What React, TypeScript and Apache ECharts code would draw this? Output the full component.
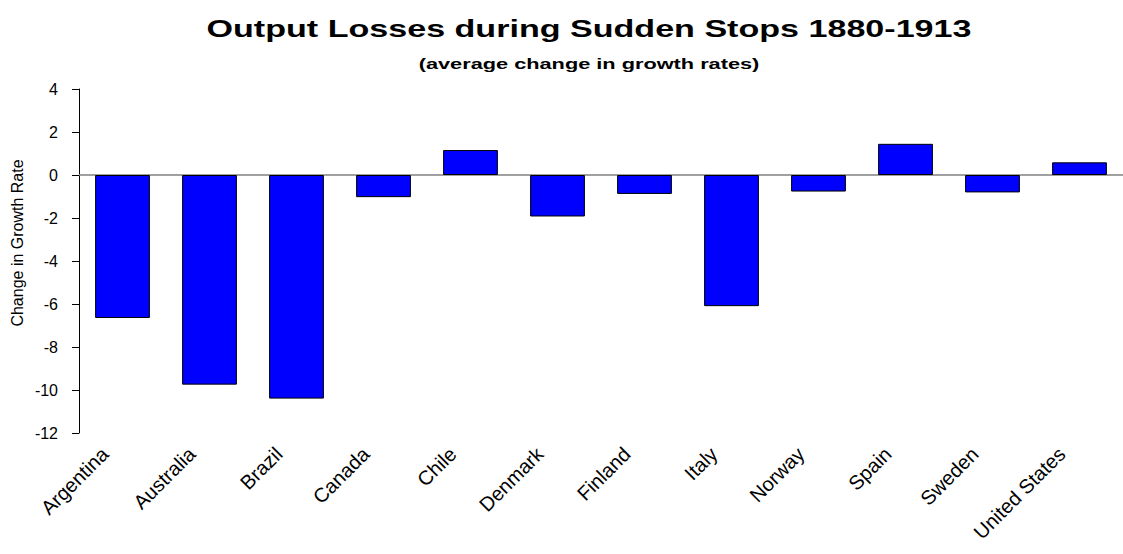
import React, { useEffect, useRef } from "react";
import * as echarts from "echarts";

const countries = [
  "Argentina", "Australia", "Brazil", "Canada", "Chile", "Denmark",
  "Finland", "Italy", "Norway", "Spain", "Sweden", "United States",
];
const growthChange = [-6.65, -9.75, -10.4, -1.03, 1.16, -1.93, -0.88, -6.1, -0.77, 1.45, -0.81, 0.59];
const yMin = -12;
const yMax = 4;
const yStep = 2;

const titleText = "Output Losses during Sudden Stops 1880-1913";
const subtitleText = "(average change in growth rates)";
const yAxisTitle = "Change in Growth Rate";

const FONT = "'Liberation Sans', Arial, sans-serif";

export default function App() {
  const ref = useRef<HTMLDivElement>(null);
  useEffect(() => {
    if (!ref.current) return;
    const chart = echarts.init(ref.current, null, { renderer: "svg" });
    chart.setOption({
      animation: false,
      backgroundColor: "#ffffff",
      graphic: [
        {
          type: "text",
          x: 589,
          y: 28,
          scaleX: 1.42,
          style: {
            text: titleText,
            font: `bold 24px ${FONT}`,
            fill: "#000",
            align: "center",
            verticalAlign: "middle",
          },
        },
        {
          type: "text",
          x: 589,
          y: 64,
          scaleX: 1.45,
          style: {
            text: subtitleText,
            font: `bold 15px ${FONT}`,
            fill: "#000",
            align: "center",
            verticalAlign: "middle",
          },
        },
        {
          type: "text",
          x: 17,
          y: 243,
          rotation: Math.PI / 2,
          style: {
            text: yAxisTitle,
            font: `16px ${FONT}`,
            fill: "#000",
            align: "center",
            verticalAlign: "middle",
          },
        },
      ],
      grid: { left: 79, top: 89, width: 1047, height: 344, containLabel: false },
      xAxis: {
        type: "category",
        data: countries,
        position: "bottom",
        axisLine: { show: false, onZero: false },
        axisTick: { show: false },
        axisLabel: {
          rotate: 45,
          interval: 0,
          margin: 0,
          padding: [0, 25, 0, 0],
          fontFamily: FONT,
          fontSize: 20,
          color: "#000",
        },
      },
      yAxis: {
        type: "value",
        min: yMin,
        max: yMax,
        interval: yStep,
        axisLine: { show: true, lineStyle: { color: "#000", width: 1 } },
        axisTick: { show: true, length: 7, lineStyle: { color: "#000" } },
        splitLine: { show: false },
        axisLabel: { margin: 21, fontFamily: FONT, fontSize: 16, color: "#000" },
      },
      series: [
        {
          type: "bar",
          data: growthChange,
          barWidth: "63%",
          itemStyle: { color: "#0000ff", borderColor: "#000", borderWidth: 1 },
          markLine: {
            silent: true,
            symbol: "none",
            label: { show: false },
            lineStyle: { color: "#808080", type: "solid", width: 1.5 },
            data: [{ yAxis: 0 }],
            z: 1,
          },
        },
      ],
    });
    return () => chart.dispose();
  }, []);
  return (
    <div
      ref={ref}
      style={{ position: "fixed", left: 0, top: 0, width: 1123, height: 554 }}
    />
  );
}
